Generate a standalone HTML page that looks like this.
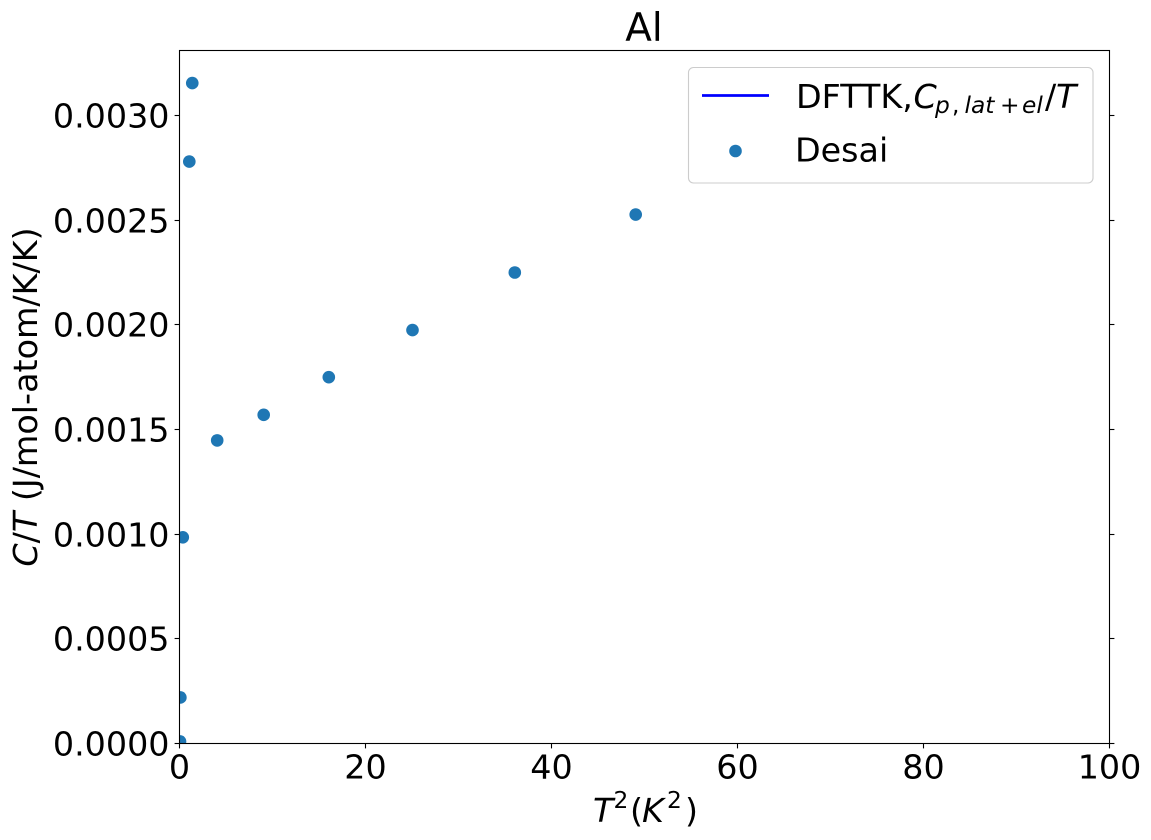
<!DOCTYPE html>
<html>
<head>
<meta charset="utf-8">
<style>
html,body{margin:0;padding:0;background:#fff;width:1151px;height:840px;overflow:hidden}
svg{display:block}
text{font-family:"DejaVu Sans",sans-serif;fill:#000}
.i{font-style:italic}
</style>
</head>
<body>
<svg id="chart" xmlns="http://www.w3.org/2000/svg" width="1151" height="840" viewBox="0 0 1151 840">
<defs><clipPath id="plot-clip"><rect x="179.5" y="50.5" width="930" height="693"/></clipPath></defs>
<rect x="179.5" y="50.5" width="930" height="693" fill="#fff"/>
<g id="desai-series" clip-path="url(#plot-clip)"></g>
<g id="ticks"></g>
<rect x="179.5" y="50.5" width="930" height="693" fill="none" stroke="#000" stroke-width="1.1"/>
<text x="644" y="41" font-size="38.9" text-anchor="middle">Al</text>
<text y="822" font-size="33.33"><tspan class="i" x="593">T</tspan><tspan font-size="23.3" x="613.5" y="808">2</tspan><tspan x="630" y="822">(</tspan><tspan class="i" x="642" y="822">K</tspan><tspan font-size="23.3" x="667" y="808">2</tspan><tspan x="685" y="822">)</tspan></text>
<text transform="translate(37,397) rotate(-90)" font-size="33.33" text-anchor="middle"><tspan class="i">C</tspan>/<tspan class="i">T</tspan> (J/mol-atom/K/K)</text>
<g>
<rect x="688.5" y="67.5" width="404.5" height="115.5" rx="5" ry="5" fill="#fff" fill-opacity="0.8" stroke="#ccc" stroke-width="1.1"/>
<line x1="702" y1="95.5" x2="769" y2="95.5" stroke="#0000ff" stroke-width="2.8"/>
<text y="108" font-size="33.33"><tspan x="796">DFTTK,</tspan><tspan class="i" x="913.5">C</tspan><tspan class="i" font-size="23.3" x="935" y="113">p</tspan><tspan font-size="23.3" x="952" y="113">,</tspan><tspan class="i" font-size="23.3" x="964.5" y="113">lat</tspan><tspan font-size="23.3" x="1000" y="113">+</tspan><tspan class="i" font-size="23.3" x="1022" y="113">el</tspan><tspan x="1045" y="108">/</tspan><tspan class="i" x="1056" y="108">T</tspan></text>
<circle cx="735.5" cy="151" r="6.3" fill="#1f77b4"/>
<text x="795" y="161.5" font-size="33.33">Desai</text>
</g>
</svg>
<script>
const temperatureSquared = [0.0025, 0.04, 0.3, 1, 1.32, 4, 9, 16, 25, 36, 49];
const heatCapacityOverT = [0.00001, 0.00022, 0.000985, 0.00278, 0.003155, 0.001448, 0.00157, 0.00175, 0.001975, 0.00225, 0.002527];
const xTickValues = [0, 20, 40, 60, 80, 100];
const xTickLabels = ["0", "20", "40", "60", "80", "100"];
const yTickValues = [0, 0.0005, 0.001, 0.0015, 0.002, 0.0025, 0.003];
const yTickLabels = ["0.0000", "0.0005", "0.0010", "0.0015", "0.0020", "0.0025", "0.0030"];

const NS = "http://www.w3.org/2000/svg";
const xScale = v => 179.5 + v * 9.3;
const yScale = v => 743.5 - v * 209330;

const seriesGroup = document.getElementById("desai-series");
temperatureSquared.forEach((t, i) => {
  const c = document.createElementNS(NS, "circle");
  
  
  c.setAttribute("cx", xScale(t) + 0.5);
  c.setAttribute("cy", yScale(heatCapacityOverT[i]));
  c.setAttribute("r", 6.3);
  c.setAttribute("fill", "#1f77b4");
  seriesGroup.appendChild(c);
});

const tickGroup = document.getElementById("ticks");
function tickLine(x1, y1, x2, y2) {
  const l = document.createElementNS(NS, "line");
  
  
  l.setAttribute("x1", x1);
  l.setAttribute("y1", y1);
  l.setAttribute("x2", x2);
  l.setAttribute("y2", y2);
  l.setAttribute("stroke", "#000");
  l.setAttribute("stroke-width", 1.1);
  tickGroup.appendChild(l);
}
function tickText(x, y, anchor, str) {
  const t = document.createElementNS(NS, "text");
  
  
  t.setAttribute("x", x);
  t.setAttribute("y", y);
  t.setAttribute("text-anchor", anchor);
  t.setAttribute("font-size", 33.33);
  t.textContent = str;
  tickGroup.appendChild(t);
}
xTickValues.forEach((v, i) => {
  const x = xScale(v);
  tickLine(x, 743.5, x, 748.4);
  tickText(x, 778.5, "middle", xTickLabels[i]);
});
yTickValues.forEach((v, i) => {
  const y = Math.round(yScale(v) - 0.5) + 0.5;
  tickLine(174.6, y, 179.5, y);
  tickLine(1109.5, y, 1114.4, y);
  tickText(169.5, y + 12, "end", yTickLabels[i]);
});
</script>
</body>
</html>
